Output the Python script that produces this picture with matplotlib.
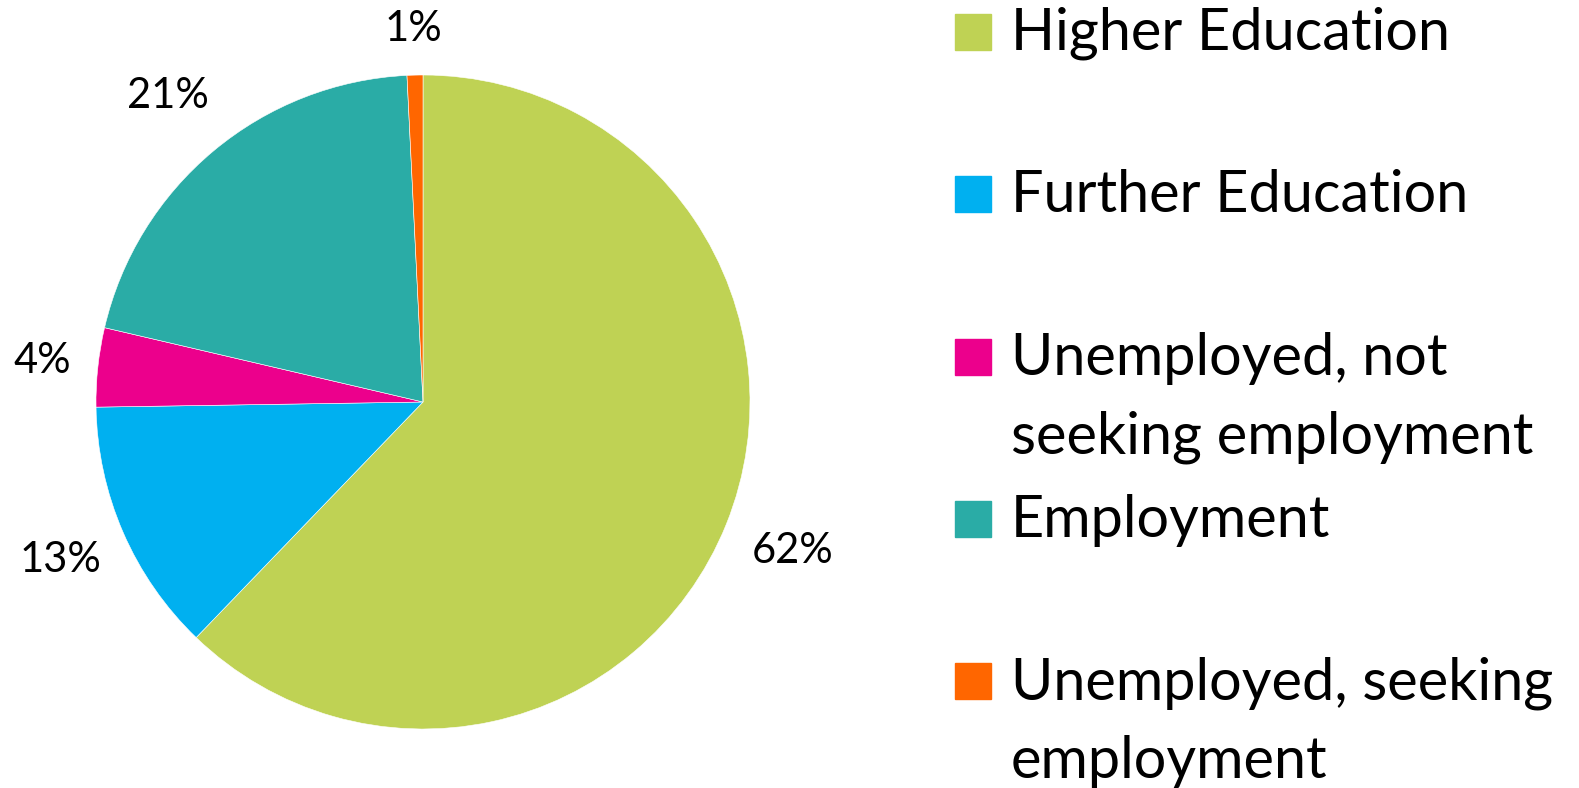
import math
import matplotlib
matplotlib.use("Agg")
import matplotlib.pyplot as plt
from matplotlib.patches import Rectangle

# data (shares in percent)
categories = ["Higher Education", "Further Education",
              "Unemployed, not\nseeking employment", "Employment",
              "Unemployed, seeking\nemployment"]
shares = [62.2, 12.55, 3.9, 20.57, 0.78]
pct_labels = ["62%", "13%", "4%", "21%", "1%"]
colors = ["#BFD254", "#00B0F0", "#EC008C", "#2AACA6", "#FF6600"]

plt.rcParams['font.family'] = ['Lato', 'DejaVu Sans']

W, H = 1579, 788
fig = plt.figure(figsize=(W / 100, H / 100), dpi=100)

# pie centre and radius in pixels
cx, cy, r = 423, 402, 327
ax = fig.add_axes([(cx - r) / W, (H - cy - r) / H, 2 * r / W, 2 * r / H])
wedges, _ = ax.pie(shares, colors=colors, startangle=90, counterclock=False,
                   radius=1, wedgeprops=dict(linewidth=0.4, edgecolor='white'))
ax.set_xlim(-1, 1)
ax.set_ylim(-1, 1)

label_dist = [1.22, 1.21, 1.17, 1.22, 1.14]
for w, txt, d in zip(wedges, pct_labels, label_dist):
    mid = math.radians((w.theta1 + w.theta2) / 2)
    ax.text(d * math.cos(mid), d * math.sin(mid), txt, ha='center', va='center',
            fontsize=30, color='black')

# legend drawn by hand: uneven wrapped entries
sq = 36
for i, (lab, col) in enumerate(zip(categories, colors)):
    top = 14 + 162.3 * i
    fig.add_artist(Rectangle((955 / W, 1 - (top + sq) / H), sq / W, sq / H,
                             transform=fig.transFigure, color=col))
    base = top + sq
    for j, line in enumerate(lab.split('\n')):
        fig.text(1011 / W, 1 - (base + 79 * j) / H, line, fontsize=41.5,
                 va='baseline', ha='left', color='black')

fig.savefig('out.png', dpi=100)
